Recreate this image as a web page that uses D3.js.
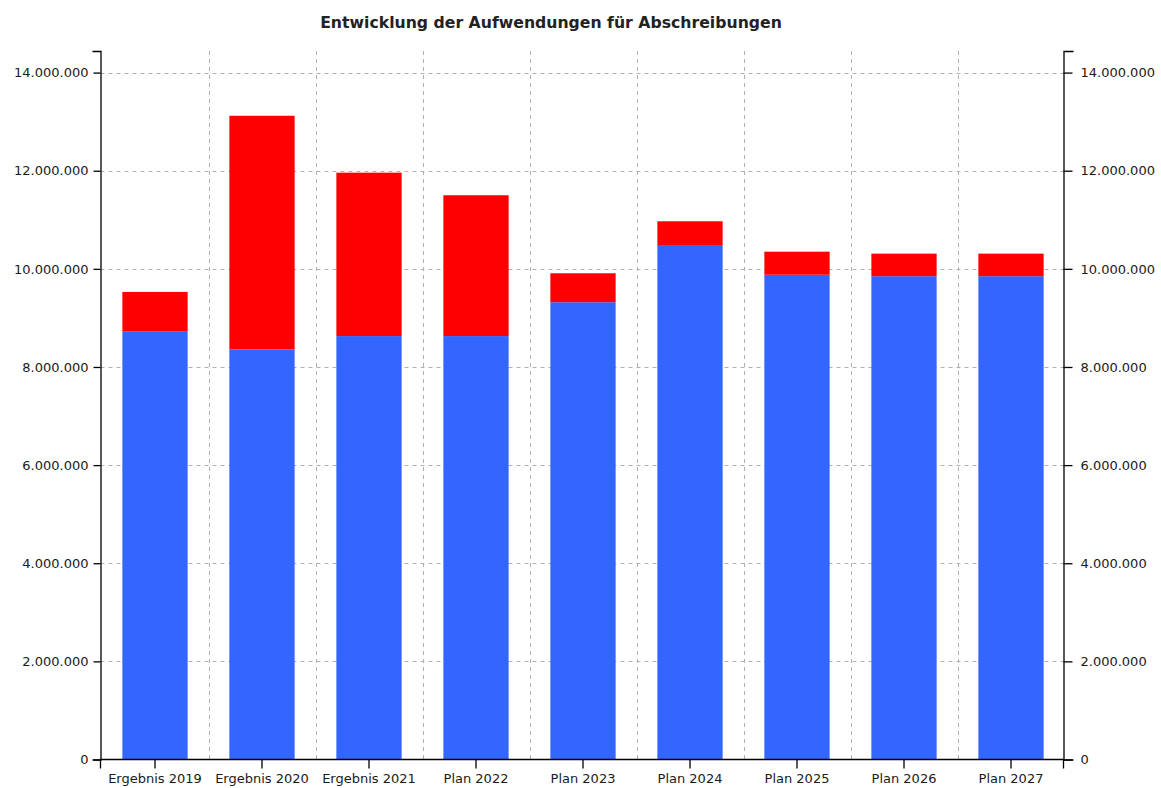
<!DOCTYPE html>
<html><head><meta charset="utf-8">
<script src="https://cdn.jsdelivr.net/npm/d3@7"></script>
<style>
body{margin:0;background:#fff;}
svg{display:block;font-family:"DejaVu Sans",Verdana,sans-serif;}
</style></head><body>
<svg id="c" width="1161" height="788"></svg>
<script>
const categories = ["Ergebnis 2019","Ergebnis 2020","Ergebnis 2021","Plan 2022","Plan 2023","Plan 2024","Plan 2025","Plan 2026","Plan 2027"];
const blueValues = [8730000,8360000,8630000,8630000,9320000,10470000,9880000,9850000,9850000];
const redValues  = [800000,4760000,3330000,2870000,590000,500000,470000,460000,460000];
const yTicks = [0,2000000,4000000,6000000,8000000,10000000,12000000,14000000];
const title = "Entwicklung der Aufwendungen für Abschreibungen";

const svg = d3.select("#c");
const L = 100.5, R = 1063.5, T = 51, B = 759.5;
const x = d3.scaleBand().domain(categories).range([101.5, 1064.5]).paddingInner(0.39).paddingOuter(0.195);
const y = d3.scaleLinear().domain([0, 14440000]).range([B, T]);
const fmt = v => d3.format(",")(v).replace(/,/g, ".");

// grid
const grid = svg.append("g").attr("stroke","#b0b0b0").attr("stroke-dasharray","4,4").attr("stroke-width",1);
grid.selectAll("line.h").data(yTicks.filter(d=>d>0)).join("line")
  .attr("x1",L).attr("x2",R).attr("y1",d=>Math.round(y(d))+0.5).attr("y2",d=>Math.round(y(d))+0.5);
const step = x.step();
grid.selectAll("line.v").data(categories.slice(1)).join("line")
  .attr("x1",d=>Math.round(x(d)-(step-x.bandwidth())/2)+0.5)
  .attr("x2",d=>Math.round(x(d)-(step-x.bandwidth())/2)+0.5)
  .attr("y1",T).attr("y2",B);

// bars
const stack = categories.map((c,i)=>({c, b:blueValues[i], r:redValues[i]}));
svg.append("g").selectAll("rect").data(stack).join("rect")
  .attr("x",d=>x(d.c)).attr("width",x.bandwidth())
  .attr("y",d=>y(d.b)).attr("height",d=>y(0)-y(d.b)).attr("fill","#3366ff");
svg.append("g").selectAll("rect").data(stack).join("rect")
  .attr("x",d=>x(d.c)).attr("width",x.bandwidth())
  .attr("y",d=>y(d.b+d.r)).attr("height",d=>y(d.b)-y(d.b+d.r)).attr("fill","#ff0000");

// axes
const yl = d3.axisLeft(y).tickValues(yTicks).tickFormat(fmt).tickSize(7).tickSizeOuter(8).tickPadding(5);
const yr = d3.axisRight(y).tickValues(yTicks).tickFormat(fmt).tickSize(9).tickSizeOuter(10).tickPadding(8);
const xb = d3.axisBottom(x).tickSize(9).tickSizeOuter(9).tickPadding(5);
function style(g){
  g.selectAll("path,line").attr("stroke","#000").attr("stroke-width",1.3);
  g.selectAll("text").attr("fill","#1a1a1a").style("font-size","13px").style("font-family","DejaVu Sans, Verdana, sans-serif");
}
svg.append("g").attr("transform",`translate(${L},0)`).call(yl).call(style);
svg.append("g").attr("transform",`translate(${R},0)`).call(yr).call(style);
svg.append("g").attr("transform",`translate(0,${B})`).call(xb).call(style)
  .select(".domain").attr("d",`M${L},9V0H${R}V9`);

svg.append("text").attr("x",551).attr("y",28).attr("text-anchor","middle")
  .attr("fill","#222").style("font-size","15.7px").style("font-weight","bold").text(title);
</script>
</body></html>
